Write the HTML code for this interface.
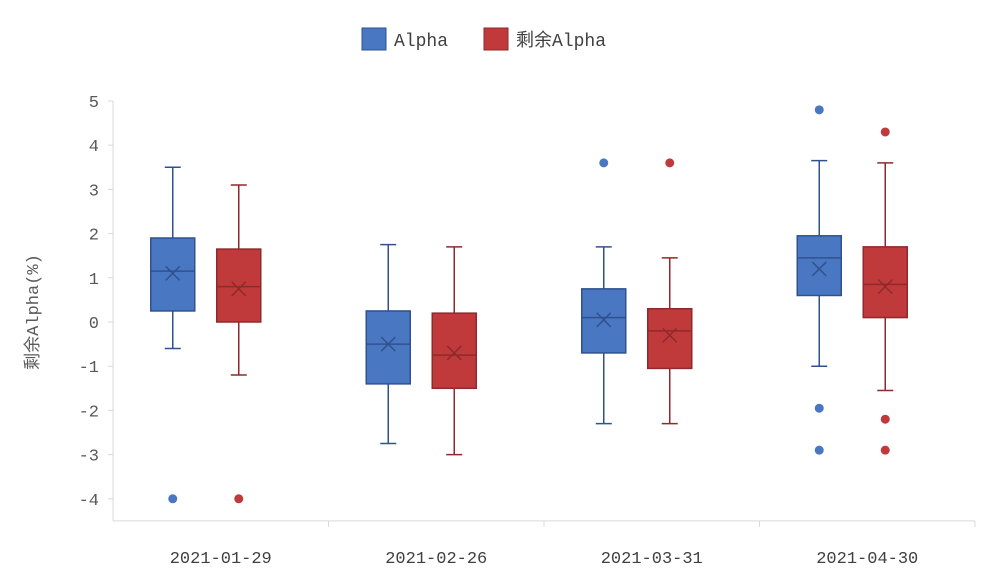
<!DOCTYPE html>
<html><head><meta charset="utf-8"><style>
body{margin:0;background:#fff;}
svg{display:block;font-family:"Liberation Mono","Noto Sans CJK SC",monospace;}
</style></head><body>
<svg id="c" width="987" height="579">
<g id="legend">
<g><rect x="362" y="28" width="24" height="22" fill="#4a77c2" stroke="#2f528f"/><text x="394" y="46" font-size="18" fill="#404040">Alpha</text></g>
<g><rect x="484" y="28" width="24" height="22" fill="#c0393b" stroke="#8e2a2b"/><text x="516" y="46" font-size="18" fill="#404040">剩余Alpha</text></g>
</g>
<text transform="translate(38,312) rotate(-90)" text-anchor="middle" font-size="17" fill="#595959">剩余Alpha(%)</text>
</svg>
<script>
const categories=["2021-01-29","2021-02-26","2021-03-31","2021-04-30"];
const alphaMin=[-0.6,-2.75,-2.3,-1.0];
const alphaQ1=[0.25,-1.4,-0.7,0.6];
const alphaMed=[1.15,-0.5,0.1,1.45];
const alphaMean=[1.1,-0.5,0.05,1.2];
const alphaQ3=[1.9,0.25,0.75,1.95];
const alphaMax=[3.5,1.75,1.7,3.65];
const alphaOut=[[-4],[],[3.6],[4.8,-1.95,-2.9]];
const resMin=[-1.2,-3.0,-2.3,-1.55];
const resQ1=[0.0,-1.5,-1.05,0.1];
const resMed=[0.8,-0.75,-0.2,0.85];
const resMean=[0.75,-0.7,-0.3,0.8];
const resQ3=[1.65,0.2,0.3,1.7];
const resMax=[3.1,1.7,1.45,3.6];
const resOut=[[-4],[],[3.6],[4.3,-2.2,-2.9]];
const yTicks=[5,4,3,2,1,0,-1,-2,-3,-4];
const NS="http://www.w3.org/2000/svg";
const svg=document.getElementById('c');
const x0=113,x1=975,catW=(x1-x0)/categories.length;
const y=v=>322-v*44.2;
const cx=i=>x0+catW*(i+0.5);
function el(t,a,p){const e=document.createElementNS(NS,t);for(const k in a)e.setAttribute(k,a[k]);(p||svg).appendChild(e);return e;}
const axis=el('g',{});


el('line',{x1:x0,y1:y(5),x2:x0,y2:y(-4.5),stroke:'#d9d9d9'},axis);
el('line',{x1:x0,y1:y(-4.5),x2:x1,y2:y(-4.5),stroke:'#d9d9d9'},axis);
yTicks.forEach(v=>{
 el('line',{x1:x0-5,y1:y(v),x2:x0,y2:y(v),stroke:'#d9d9d9'},axis);
 const t=el('text',{x:x0-14,y:y(v)+6,'text-anchor':'end','font-size':17,fill:'#595959'},axis);
 
 
 t.textContent=v;
});
categories.forEach((c,i)=>{
 el('line',{x1:x0+catW*(i+1),y1:y(-4.5),x2:x0+catW*(i+1),y2:y(-4.5)+6,stroke:'#d9d9d9'},axis);
 const t=el('text',{x:cx(i),y:563,'text-anchor':'middle','font-size':17,fill:'#404040'},axis);
 
 
 t.textContent=c;
});
function box(i,off,mn,q1,md,mean,q3,mx,outs,fill,stroke,nm){
 const g=el('g',{});
 
 
 const xc=cx(i)+off,w=44,l=xc-w/2;
 el('line',{x1:xc,y1:y(mx),x2:xc,y2:y(q3),stroke:stroke,'stroke-width':1.5},g);
 el('line',{x1:xc,y1:y(q1),x2:xc,y2:y(mn),stroke:stroke,'stroke-width':1.5},g);
 el('line',{x1:xc-8,y1:y(mx),x2:xc+8,y2:y(mx),stroke:stroke,'stroke-width':1.5},g);
 el('line',{x1:xc-8,y1:y(mn),x2:xc+8,y2:y(mn),stroke:stroke,'stroke-width':1.5},g);
 el('rect',{x:l,y:y(q3),width:w,height:y(q1)-y(q3),fill:fill,stroke:stroke,'stroke-width':1.5},g);
 el('line',{x1:l,y1:y(md),x2:l+w,y2:y(md),stroke:stroke,'stroke-width':1.5},g);
 const my=y(mean);
 el('path',{d:`M${xc-7},${my-7}L${xc+7},${my+7}M${xc-7},${my+7}L${xc+7},${my-7}`,stroke:stroke,'stroke-width':1.5},g);
 outs.forEach(o=>{const p=el('circle',{cx:xc,cy:y(o),r:4.5,fill:fill},g);
  
  });
}
categories.forEach((c,i)=>{
 box(i,-48,alphaMin[i],alphaQ1[i],alphaMed[i],alphaMean[i],alphaQ3[i],alphaMax[i],alphaOut[i],'#4a77c2','#2f528f','alpha');
 box(i,18,resMin[i],resQ1[i],resMed[i],resMean[i],resQ3[i],resMax[i],resOut[i],'#c0393b','#8e2a2b','residual-alpha');
});
</script>
</body></html>
